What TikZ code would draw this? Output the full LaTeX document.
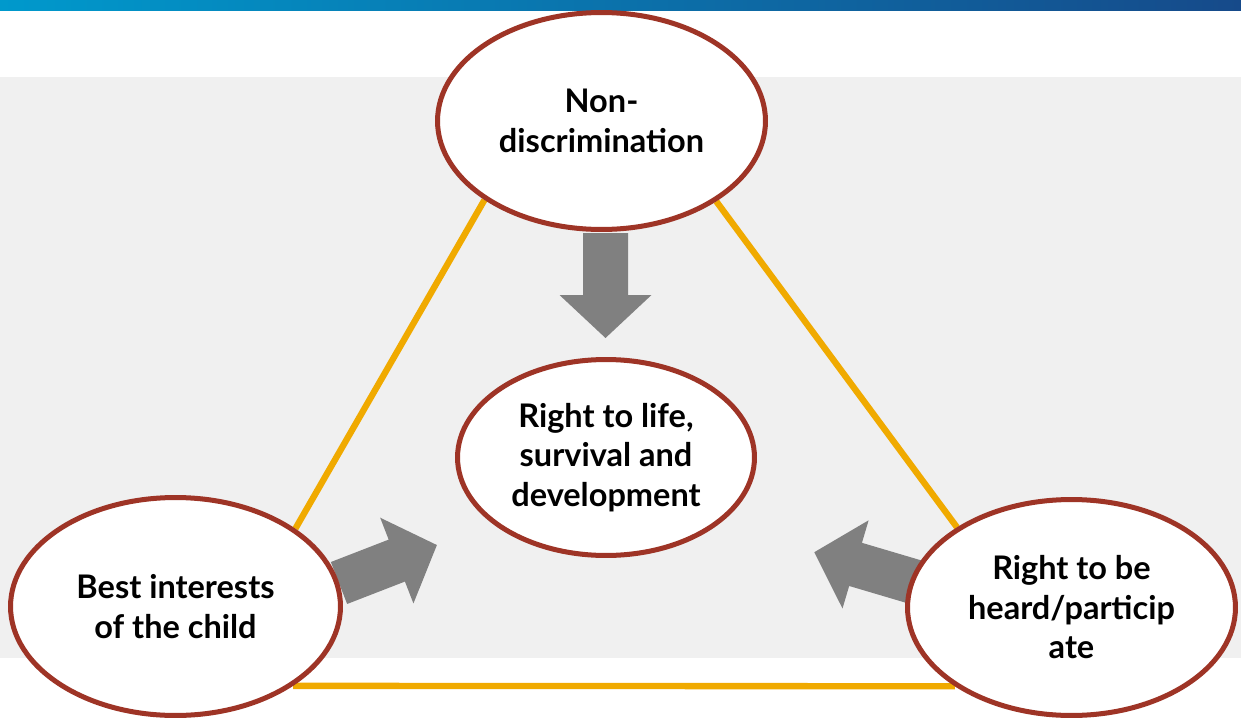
\documentclass[tikz,border=0pt]{standalone}
\usepackage{fontspec}
\setmainfont{Lato}
\usepackage{tikz}
\usetikzlibrary{shapes,arrows}
\usetikzlibrary{calc,positioning}

\definecolor{ringred}{RGB}{158,52,38}
\definecolor{linkorange}{RGB}{240,170,0}
\definecolor{arrowgray}{RGB}{128,128,128}
\definecolor{panelgray}{RGB}{240,240,240}
\definecolor{barleft}{RGB}{0,153,204}
\definecolor{barright}{RGB}{22,74,138}

\pgfdeclarelayer{background}
\pgfsetlayers{background,main}

\begin{document}
\begin{tikzpicture}[x=0.02cm,y=-0.02cm,
	principle/.style={ellipse,draw=ringred,line width=2.85pt,fill=white,inner sep=0pt,align=center,
		font=\fontsize{18.5}{22.5}\selectfont\bfseries},
	link/.style={draw=linkorange,line width=3.6pt},
	fatarrow/.style={fill=arrowgray}]
			\useasboundingbox (0,0) rectangle (1241,720);
			\begin{pgfonlayer}{background}
			\fill[panelgray] (0,77) rectangle (1241,658);
			\end{pgfonlayer}
			\shade[left color=barleft,right color=barright] (0,0) rectangle (1241,10);
			% big gray arrows
			\foreach \tail/\ang in {{(605.5,233)}/-90,{(339,583)}/21.2,{(915,582)}/163.5}
			  \fill[fatarrow,shift={\tail},rotate=\ang] (0,-22.5) -- (62,-22.5) -- (62,-46) -- (105,0)
			    -- (62,46) -- (62,22.5) -- (0,22.5) -- cycle;
			% the four principles
			\node[principle,minimum width=6.56cm,minimum height=4.34cm] (nondisc) at (601.5,121) {Non-\\discrimination};
			\node[principle,minimum width=5.94cm,minimum height=3.92cm] (life) at (606,457.5) {Right to life,\\survival and\\development};
			\node[principle,minimum width=6.6cm,minimum height=4.36cm] (best) at (175.5,606.5) {Best interests\\of the child};
			\node[principle,minimum width=6.56cm,minimum height=4.32cm] (heard) at (1071.5,607.5) {Right to be\\heard/particip\\ate};
			\begin{pgfonlayer}{background}
			\draw[link] (nondisc.214.7) -- (best.33.1);
			\draw[link] (nondisc.325.3) -- (heard.145.9);
			\draw[link] (best.-34.4) -- (heard.214.8);
			\end{pgfonlayer}
\end{tikzpicture}
\end{document}
